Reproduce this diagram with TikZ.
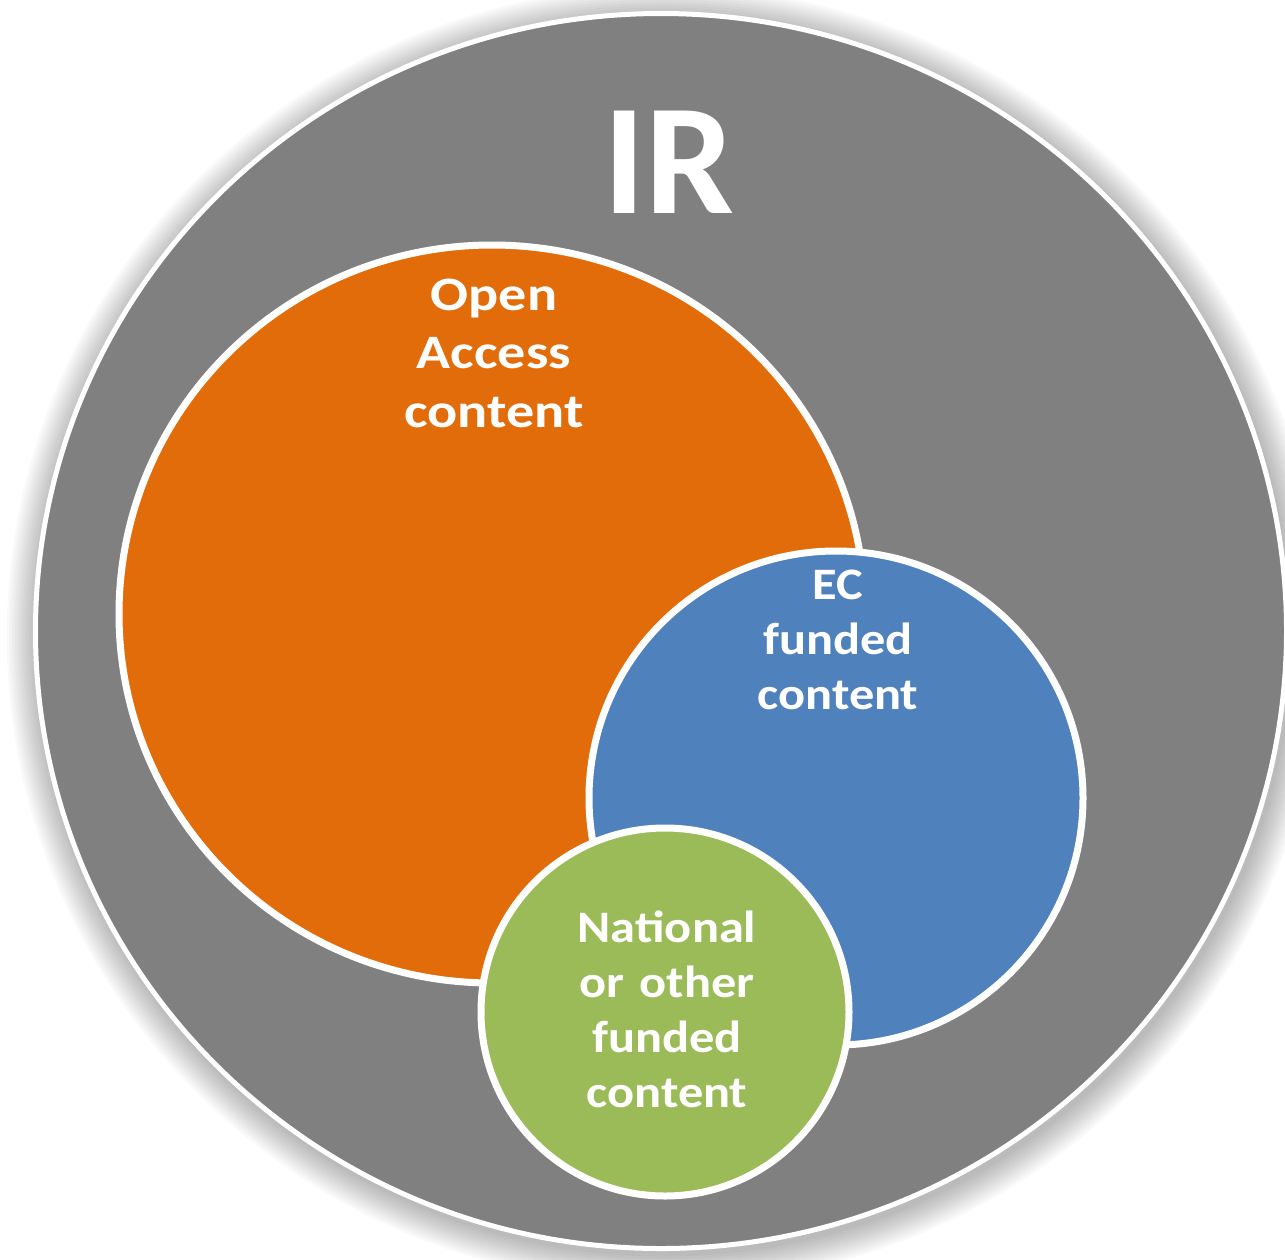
\documentclass[tikz,border=0pt]{standalone}
\usepackage{fontspec}
\setmainfont{Carlito}
\newfontfamily\oafont[FakeStretch=1.17]{Carlito}
\newfontfamily\smfont[FakeStretch=1.12]{Carlito}
\usetikzlibrary{shapes.geometric}
\definecolor{irgrey}{HTML}{808080}
\definecolor{oaorange}{HTML}{E36C0A}
\definecolor{ecblue}{HTML}{4F81BD}
\definecolor{natgreen}{HTML}{9BBB59}
\tikzset{
  disc/.style={ellipse, inner sep=0pt, outer sep=0pt, draw=white, line width=7pt},
  label/.style={text=white, align=center, text width=300pt, anchor=base, inner sep=0pt},
}
\begin{document}
\begin{tikzpicture}[x=1pt,y=-1pt]
\useasboundingbox (0,0) rectangle (1285,1259);
\fill[white] (0,0) rectangle (1285,1259);
\clip (0,0) rectangle (1285,1259);
% soft shadow
\foreach \k in {1,...,12}
  \fill[black, opacity=0.024] (664,636) ellipse [x radius={626+2.6*\k}, y radius={618+2.6*\k}];
% outer IR disc
\node[disc, line width=5pt, fill=irgrey, minimum width=1251pt, minimum height=1235pt] (ir) at (661,631) {};
% inner discs
\node[disc, fill=oaorange, minimum width=746pt, minimum height=738pt] (oa) at (492,614) {};
\node[disc, fill=ecblue, minimum width=494pt, minimum height=494pt] (ec) at (836,798) {};
\node[disc, fill=natgreen, minimum width=368pt, minimum height=368pt] (nat) at (665,1012) {};
% labels
\node[label, font=\bfseries\fontsize{158}{190}\selectfont] (irlabel) at (669,213) {IR};
\node[label, font=\oafont\bfseries\fontsize{48}{58.5}\selectfont] (oalabel) at (494,310) {Open\\Access\\content};
\node[label, font=\smfont\bfseries\fontsize{45}{55}\selectfont] (eclabel) at (838,599) {EC\\funded\\content};
\node[label, font=\smfont\bfseries\fontsize{45}{55}\selectfont] (natlabel) at (667,942) {National\\or other\\funded\\content};
\end{tikzpicture}
\end{document}
